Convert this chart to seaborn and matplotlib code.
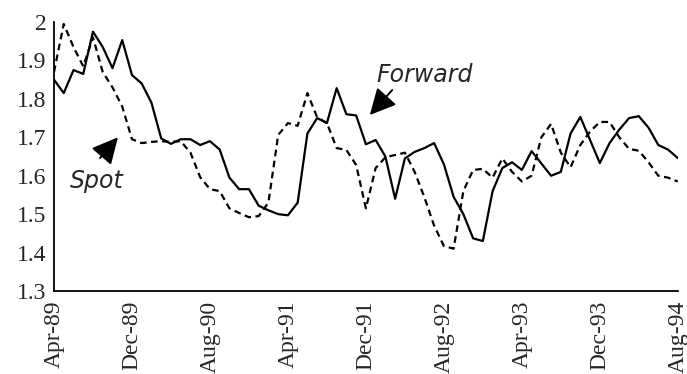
import numpy as np
import pandas as pd
import matplotlib
matplotlib.use("Agg")
import matplotlib.pyplot as plt
import seaborn as sns

# Monthly observations, Apr-89 through Aug-94
months = pd.date_range("1989-04-01", "1994-08-01", freq="MS").strftime("%b-%y").tolist()

forward = [1.85, 1.815, 1.875, 1.865, 1.975, 1.935, 1.88, 1.953, 1.862, 1.84,
           1.79, 1.697, 1.683, 1.695, 1.695, 1.68, 1.69, 1.668, 1.595, 1.565,
           1.565, 1.522, 1.51, 1.50, 1.497, 1.53, 1.71, 1.75, 1.737, 1.828,
           1.76, 1.757, 1.682, 1.693, 1.65, 1.54, 1.645, 1.662, 1.672, 1.685,
           1.63, 1.545, 1.50, 1.437, 1.43, 1.56, 1.62, 1.635, 1.615, 1.664,
           1.632, 1.60, 1.61, 1.71, 1.753, 1.693, 1.633, 1.685, 1.72, 1.75,
           1.755, 1.725, 1.68, 1.668, 1.646]

spot = [1.87, 1.995, 1.935, 1.885, 1.96, 1.87, 1.83, 1.78, 1.695, 1.685,
        1.688, 1.69, 1.688, 1.69, 1.66, 1.596, 1.565, 1.56, 1.515, 1.503,
        1.492, 1.495, 1.53, 1.706, 1.737, 1.73, 1.815, 1.752, 1.737, 1.672,
        1.667, 1.628, 1.515, 1.62, 1.648, 1.654, 1.66, 1.61, 1.544, 1.47,
        1.417, 1.41, 1.56, 1.615, 1.618, 1.595, 1.645, 1.61, 1.585, 1.60,
        1.70, 1.735, 1.66, 1.622, 1.68, 1.715, 1.74, 1.74, 1.70, 1.67,
        1.665, 1.635, 1.60, 1.595, 1.585]

tick_labels = ["Apr-89", "Dec-89", "Aug-90", "Apr-91", "Dec-91",
               "Aug-92", "Apr-93", "Dec-93", "Aug-94"]
y_ticks = [1.3, 1.4, 1.5, 1.6, 1.7, 1.8, 1.9, 2.0]
y_tick_labels = ["1.3", "1.4", "1.5", "1.6", "1.7", "1.8", "1.9", "2"]

sns.set_style("white")
plt.rcParams["font.family"] = ["Liberation Serif", "DejaVu Serif"]

pos = np.arange(len(months))
df = pd.DataFrame({
    "pos": np.concatenate([pos, pos]),
    "rate": forward + spot,
    "series": ["Forward"] * len(pos) + ["Spot"] * len(pos),
})

fig = plt.figure(figsize=(6.87, 3.74), dpi=100)
ax = fig.add_axes([0.0786, 0.222, 0.908, 0.719])

sns.lineplot(data=df, x="pos", y="rate", style="series",
             dashes={"Forward": "", "Spot": (3, 2)},
             color="black", linewidth=1.6, legend=False, ax=ax)

ax.set_xlim(0, len(months) - 1)
ax.set_ylim(1.3, 2.0)
ax.set_xlabel("")
ax.set_ylabel("")

tick_pos = [months.index(lbl) for lbl in tick_labels]
ax.set_xticks(tick_pos)
ax.set_xticklabels(tick_labels, rotation=90, fontsize=17)
ax.set_yticks(y_ticks)
ax.set_yticklabels(y_tick_labels, fontsize=17)

ax.tick_params(axis="x", length=0, pad=7)
ax.tick_params(axis="y", direction="inout", length=9, width=1.2, pad=1,
               color="black")

for side in ("top", "right"):
    ax.spines[side].set_visible(False)
for side in ("left", "bottom"):
    ax.spines[side].set_color("black")
    ax.spines[side].set_linewidth(1.3)

arrow = dict(arrowstyle="-|>,head_length=0.8,head_width=0.4",
             mutation_scale=20, color="black", lw=1.4,
             shrinkA=0, shrinkB=0)
label_font = dict(family="DejaVu Sans", style="italic", fontsize=17)

ax.annotate("", xy=(32.4, 1.758), xytext=(34.7, 1.823), arrowprops=arrow)
ax.text(33.1, 1.844, "Forward", ha="left", va="baseline", **label_font)

ax.annotate("", xy=(6.56, 1.70), xytext=(4.72, 1.646), arrowprops=arrow)
ax.text(1.64, 1.568, "Spot", ha="left", va="baseline", **label_font)

fig.savefig("out.png", dpi=100, facecolor="white")
